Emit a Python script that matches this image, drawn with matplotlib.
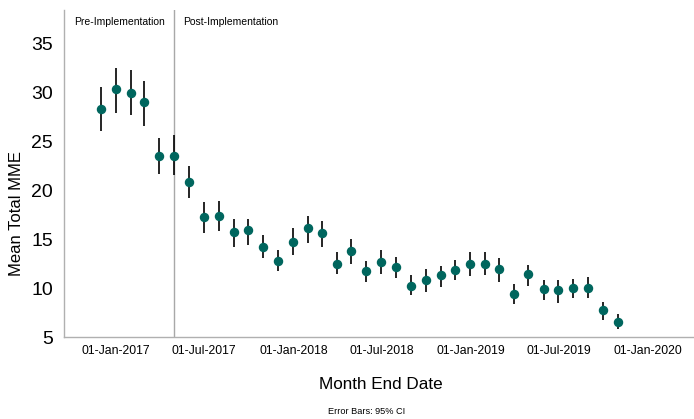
import numpy as np
import pandas as pd
import matplotlib
matplotlib.use('Agg')
import matplotlib.pyplot as plt
import matplotlib.dates as mdates

# 数据 (月末日期, 均值, 95% CI)
month_end = pd.date_range('2016-11-30', periods=36, freq='ME')
mean_mme = np.array([28.27, 30.3, 29.9, 29.0, 23.5, 23.5, 20.85, 17.3, 17.4, 15.7,
                     15.9, 14.2, 12.8, 14.7, 16.1, 15.6, 12.5, 13.8, 11.7, 12.7,
                     12.2, 10.25, 10.8, 11.3, 11.8, 12.5, 12.5, 11.9, 9.35, 11.4,
                     9.9, 9.8, 10.0, 10.0, 7.75, 6.55])
ci_low = np.array([26.0, 27.9, 27.7, 26.6, 21.7, 21.5, 19.2, 15.6, 15.8, 14.2,
                   14.4, 13.1, 11.7, 13.4, 14.6, 14.2, 11.4, 12.5, 10.6, 11.4,
                   11.0, 9.25, 9.6, 10.1, 10.8, 11.2, 11.3, 10.6, 8.4, 10.25,
                   8.8, 8.5, 9.0, 9.0, 6.7, 5.8])
ci_high = np.array([30.5, 32.5, 32.3, 31.2, 25.3, 25.6, 22.5, 18.8, 18.9, 17.1,
                    17.1, 15.4, 13.9, 16.1, 17.4, 16.9, 13.7, 15.0, 12.8, 13.9,
                    13.2, 11.3, 11.9, 12.3, 12.9, 13.7, 13.7, 13.1, 10.4, 12.4,
                    10.8, 10.8, 10.9, 11.1, 8.6, 7.4])
implementation_date = pd.Timestamp('2017-04-30')
y_ticks = [5, 10, 15, 20, 25, 30, 35]

plt.rcParams['font.family'] = ['Liberation Sans', 'DejaVu Sans']

fig = plt.figure(figsize=(6.94, 4.19), dpi=100)
ax = fig.add_axes([0.0927, 0.1957, 0.9073, 0.7804])

# 误差线 + 点
yerr = np.vstack([mean_mme - ci_low, ci_high - mean_mme])
ax.errorbar(month_end, mean_mme, yerr=yerr, fmt='none', ecolor='black',
            elinewidth=1.2, capsize=0, zorder=2)
ax.plot(month_end, mean_mme, 'o', color='#00665e', markersize=5.8, zorder=3)

# 实施分界线
ax.axvline(implementation_date, color='#a8a8a8', linewidth=1.0, zorder=1)

ax.set_xlim(pd.Timestamp('2016-09-16'), pd.Timestamp('2020-04-05'))
ax.set_ylim(5, 38.4)
ax.set_yticks(y_ticks)
ax.xaxis.set_major_locator(mdates.MonthLocator(bymonth=[1, 7]))
ax.xaxis.set_major_formatter(mdates.DateFormatter('%d-%b-%Y'))
ax.tick_params(axis='y', length=0, pad=8, labelsize=14)
ax.tick_params(axis='x', length=0, pad=6, labelsize=8.8)

for side in ['top', 'right']:
    ax.spines[side].set_visible(False)
for side in ['left', 'bottom']:
    ax.spines[side].set_color('#b0b0b0')
    ax.spines[side].set_linewidth(1.0)

# 文字
fig.text(74 / 694, 1 - 22 / 419, 'Pre-Implementation',
         ha='left', va='center', fontsize=7.5)
fig.text(183 / 694, 1 - 22 / 419, 'Post-Implementation',
         ha='left', va='center', fontsize=7.5)
fig.text(17 / 694, 1 - 213 / 419, 'Mean Total MME', rotation=90,
         ha='center', va='center', fontsize=12)
fig.text(381 / 694, 1 - 384 / 419, 'Month End Date',
         ha='center', va='center', fontsize=12.3)
fig.text(367 / 694, 1 - 411 / 419, 'Error Bars: 95% CI',
         ha='center', va='center', fontsize=6.6)

fig.savefig('out.png', dpi=100)
